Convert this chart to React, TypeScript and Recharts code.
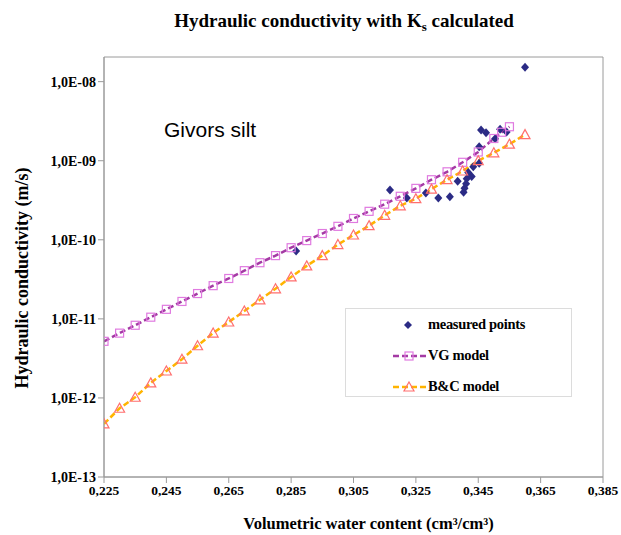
import {
  ComposedChart,
  Line,
  Scatter,
  XAxis,
  YAxis,
  Legend,
  ReferenceArea,
} from 'recharts';

// VG model curve (theta, K in m/s)
const vgTheta = [
  0.225, 0.23, 0.235, 0.24, 0.245, 0.25, 0.255, 0.26, 0.265, 0.27, 0.275, 0.28, 0.285, 0.29,
  0.295, 0.3, 0.305, 0.31, 0.315, 0.32, 0.325, 0.33, 0.335, 0.34, 0.345, 0.35, 0.3525, 0.355,
];
const vgK = [
  5.2e-12, 6.6e-12, 8.3e-12, 1.05e-11, 1.32e-11, 1.66e-11, 2.09e-11, 2.63e-11, 3.24e-11,
  4.07e-11, 5.13e-11, 6.31e-11, 7.94e-11, 9.77e-11, 1.2e-10, 1.48e-10, 1.86e-10, 2.29e-10,
  2.82e-10, 3.55e-10, 4.47e-10, 5.75e-10, 7.24e-10, 9.55e-10, 1.29e-9, 1.91e-9, 2.29e-9, 2.69e-9,
];

// B&C model curve
const bcTheta = [
  0.225, 0.23, 0.235, 0.24, 0.245, 0.25, 0.255, 0.26, 0.265, 0.27, 0.275, 0.28, 0.285, 0.29,
  0.295, 0.3, 0.305, 0.31, 0.315, 0.32, 0.325, 0.33, 0.335, 0.34, 0.345, 0.35, 0.355, 0.36,
];
const bcK = [
  4.7e-13, 7.4e-13, 1.02e-12, 1.55e-12, 2.19e-12, 3.09e-12, 4.57e-12, 6.61e-12, 9.12e-12,
  1.26e-11, 1.74e-11, 2.4e-11, 3.39e-11, 4.68e-11, 6.31e-11, 8.71e-11, 1.15e-10, 1.51e-10,
  2.04e-10, 2.69e-10, 3.31e-10, 4.37e-10, 5.75e-10, 7.41e-10, 1.0e-9, 1.26e-9, 1.62e-9, 2.14e-9,
];

// measured points
const measTheta = [
  0.2866, 0.3167, 0.3221, 0.3282, 0.3322, 0.3359, 0.3384, 0.3403, 0.3406, 0.3411, 0.3413,
  0.3418, 0.3429, 0.3434, 0.3453, 0.3453, 0.3459, 0.3475, 0.3504, 0.352, 0.3541, 0.36,
];
const measK = [
  7.2e-11, 4.26e-10, 3.37e-10, 3.9e-10, 3.37e-10, 3.5e-10, 5.5e-10, 4.0e-10, 4.5e-10, 5.1e-10,
  5.9e-10, 7.1e-10, 6.3e-10, 8.4e-10, 9.3e-10, 1.5e-9, 2.45e-9, 2.26e-9, 1.9e-9, 2.5e-9, 2.3e-9,
  1.52e-8,
];

const xTicks = [0.225, 0.245, 0.265, 0.285, 0.305, 0.325, 0.345, 0.365, 0.385];
const yTicks = [1e-13, 1e-12, 1e-11, 1e-10, 1e-9, 1e-8];

const vgData = vgTheta.map((t, i) => ({ theta: t, k: vgK[i] }));
const bcData = bcTheta.map((t, i) => ({ theta: t, k: bcK[i] }));
const measData = measTheta.map((t, i) => ({ theta: t, k: measK[i] }));

const serif = '"Liberation Serif", "Times New Roman", serif';
const axisGray = '#9a9a9a';
const navy = '#2b2b85';
const vgLine = '#a43aa4';
const vgMark = '#e07ae0';
const bcLine = '#ffb400';
const bcMark = '#ff6f6f';

const fmtX = (v: number) => v.toFixed(3).replace('.', ',');
const fmtY = (v: number) => {
  const e = Math.round(Math.log10(v));
  return '1,0E-' + String(-e).padStart(2, '0');
};

const Square = (props: any) => {
  const { cx, cy, index } = props;
  if (cx == null || cy == null) return <g key={index} />;
  return <rect key={index} x={cx - 4} y={cy - 4} width={8} height={8} fill="none" stroke={vgMark} strokeWidth={1.2} />;
};

const Triangle = (props: any) => {
  const { cx, cy, index } = props;
  if (cx == null || cy == null) return <g key={index} />;
  return (
    <path
      key={index}
      d={`M${cx},${cy - 5} L${cx + 5},${cy + 4} L${cx - 5},${cy + 4} Z`}
      fill="none"
      stroke={bcMark}
      strokeWidth={1.2}
    />
  );
};

const Diamond = (props: any) => {
  const { cx, cy } = props;
  return <path d={`M${cx},${cy - 4.5} L${cx + 4},${cy} L${cx},${cy + 4.5} L${cx - 4},${cy} Z`} fill={navy} />;
};

function LegendBox() {
  const row = { display: 'flex', alignItems: 'center', height: 31 } as const;
  const label = { fontFamily: serif, fontWeight: 700, fontSize: 14.5, color: '#000', letterSpacing: -0.3 };
  return (
    <div
      style={{
        width: 227,
        height: 89,
        boxSizing: 'border-box',
        border: '1px solid #dcdcdc',
        background: '#fff',
      }}
    >
      <div style={row}>
        <svg width={82} height={14} style={{ display: 'block' }}>
          <path d="M62,3 L66,7 L62,11 L58,7 Z" fill={navy} />
        </svg>
        <span style={label}>measured points</span>
      </div>
      <div style={row}>
        <svg width={82} height={14} style={{ display: 'block' }}>
          <line x1={47} y1={7} x2={80} y2={7} stroke={vgLine} strokeWidth={2.5} strokeDasharray="6 3" />
          <rect x={59} y={3} width={8} height={8} fill="none" stroke={vgMark} strokeWidth={1.2} />
        </svg>
        <span style={label}>VG model</span>
      </div>
      <div style={row}>
        <svg width={82} height={14} style={{ display: 'block' }}>
          <line x1={47} y1={7} x2={80} y2={7} stroke={bcLine} strokeWidth={2.5} strokeDasharray="6 3" />
          <path d="M63,2 L68,11 L58,11 Z" fill="none" stroke={bcMark} strokeWidth={1.2} />
        </svg>
        <span style={label}>B&amp;C model</span>
      </div>
    </div>
  );
}

export default function App() {
  return (
    <div style={{ position: 'absolute', left: 0, top: 0, width: 621, height: 535, background: '#fff' }}>
      <ComposedChart width={621} height={535} margin={{ top: 57, right: 18, bottom: 28, left: 0 }}>
        <XAxis
          dataKey="theta"
          type="number"
          domain={[0.225, 0.385]}
          ticks={xTicks}
          tickFormatter={fmtX}
          allowDataOverflow
          height={30}
          stroke={axisGray}
          tickSize={6}
          tick={{ fill: '#000', fontFamily: serif, fontWeight: 700, fontSize: 13.5 }}
          label={{
            value: 'Volumetric water content (cm³/cm³)',
            position: 'bottom',
            offset: 10,
            dx: 15,
            fill: '#000',
            fontFamily: serif,
            fontWeight: 700,
            fontSize: 16.5,
          }}
        />
        <YAxis
          dataKey="k"
          type="number"
          scale="log"
          domain={[1e-13, 2.05e-8]}
          ticks={yTicks}
          tickFormatter={fmtY}
          allowDataOverflow
          width={104}
          stroke={axisGray}
          tickSize={6}
          tick={{ fill: '#000', fontFamily: serif, fontWeight: 700, fontSize: 14 }}
        />
        <ReferenceArea
          x1={0.225}
          x2={0.385}
          y1={1e-13}
          y2={2.05e-8}
          fill="none"
          stroke={axisGray}
          strokeOpacity={1}
          ifOverflow="visible"
        />
        <Line
          data={vgData}
          dataKey="k"
          name="VG model"
          stroke={vgLine}
          strokeWidth={2.5}
          strokeDasharray="6 3"
          dot={Square}
          activeDot={false}
          isAnimationActive={false}
        />
        <Line
          data={bcData}
          dataKey="k"
          name="B&C model"
          stroke={bcLine}
          strokeWidth={2.5}
          strokeDasharray="6 3"
          dot={Triangle}
          activeDot={false}
          isAnimationActive={false}
        />
        <Scatter data={measData} dataKey="k" name="measured points" shape={Diamond} isAnimationActive={false} />
        <Legend
          layout="vertical"
          align="center"
          verticalAlign="middle"
          content={() => <LegendBox />}
          wrapperStyle={{ left: 345, top: 308, width: 227, height: 89 }}
        />
      </ComposedChart>
      <svg
        width={621}
        height={535}
        style={{ position: 'absolute', left: 0, top: 0, pointerEvents: 'none' }}
      >
        <text x={344} y={27} textAnchor="middle" fontFamily={serif} fontWeight={700} fontSize={19} fill="#000">
          Hydraulic conductivity with K
          <tspan fontSize={13} dy={4}>s</tspan>
          <tspan dy={-4}> calculated</tspan>
        </text>
        <text
          transform="translate(28,278) rotate(-90)"
          textAnchor="middle"
          fontFamily={serif}
          fontWeight={700}
          fontSize={18}
          fill="#000"
        >
          Hydraulic conductivity (m/s)
        </text>
        <text x={164} y={137} fontFamily='"Liberation Sans", Arial, sans-serif' fontSize={21} fill="#000">
          Givors silt
        </text>
      </svg>
    </div>
  );
}
